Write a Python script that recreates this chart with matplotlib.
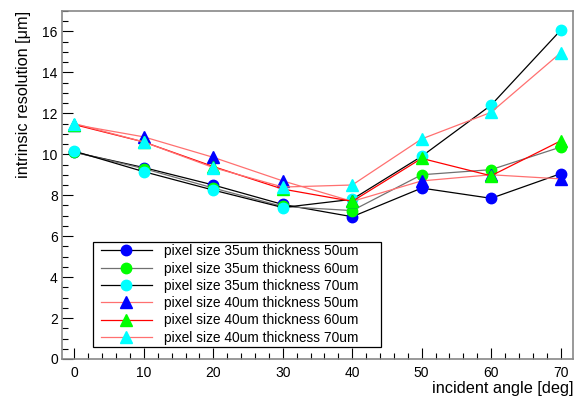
import matplotlib
matplotlib.use("Agg")
import matplotlib.pyplot as plt
from matplotlib.ticker import MultipleLocator
from matplotlib.patches import Rectangle

plt.rcParams['font.family'] = ['Liberation Sans', 'DejaVu Sans']

angles = [0, 10, 20, 30, 40, 50, 60, 70]
p35_t50 = [10.10, 9.35, 8.50, 7.55, 6.95, 8.35, 7.85, 9.05]
p35_t60 = [10.10, 9.30, 8.35, 7.45, 7.25, 9.00, 9.25, 10.35]
p35_t70 = [10.15, 9.15, 8.25, 7.40, 7.80, 9.90, 12.40, 16.05]
p40_t50 = [11.45, 10.85, 9.85, 8.70, 7.70, 8.70, 9.00, 8.80]
p40_t60 = [11.45, 10.60, 9.40, 8.30, 7.70, 9.80, 8.95, 10.65]
p40_t70 = [11.50, 10.60, 9.35, 8.40, 8.50, 10.75, 12.05, 14.95]

labels = ["pixel size 35um thickness 50um",
          "pixel size 35um thickness 60um",
          "pixel size 35um thickness 70um",
          "pixel size 40um thickness 50um",
          "pixel size 40um thickness 60um",
          "pixel size 40um thickness 70um"]
series = [p35_t50, p35_t60, p35_t70, p40_t50, p40_t60, p40_t70]
line_colors = ["#000000", "#707070", "#000000", "#ff7070", "#ff0000", "#ff7070"]
marker_colors = ["#0000ff", "#00ff00", "#00ffff", "#0000ff", "#00ff00", "#00ffff"]
markers = ["o", "o", "o", "^", "^", "^"]

fig = plt.figure(figsize=(5.79, 3.96), dpi=100)
ax = fig.add_axes([62/579, 1 - 359/396, 511/579, 348/396])

for vals, lab, lc, mc, m in zip(series, labels, line_colors, marker_colors, markers):
    ax.plot(angles, vals, color=lc, lw=0.9, marker=m, markersize=7.5 if m == "o" else 8,
            markerfacecolor=mc, markeredgecolor=mc, label=lab)

ax.set_xlim(-1.8, 71.8)
ax.set_ylim(0, 17)
ax.xaxis.set_major_locator(MultipleLocator(10))
ax.xaxis.set_minor_locator(MultipleLocator(2))
ax.yaxis.set_major_locator(MultipleLocator(2))
ax.yaxis.set_minor_locator(MultipleLocator(0.5))
ax.tick_params(which='both', direction='in', top=False, right=False, labelsize=10,
               color='#000000', width=0.8)
ax.tick_params(which='major', length=8)
ax.tick_params(which='minor', length=4)
ax.tick_params(axis='x', pad=5)
ax.tick_params(axis='y', pad=3)
for s in ax.spines.values():
    s.set_color('#888888')
    s.set_linewidth(1.2)

ax.set_xlabel("incident angle [deg]", fontsize=11.7, loc='right', labelpad=1)
ax.set_ylabel("intrinsic resolution [μm]", fontsize=11.7, loc='top', labelpad=8)

# legend frame drawn separately (axes coords)
x0, y0, x1, y1 = (93 - 62) / 511, (359 - 347) / 348, (381 - 62) / 511, (359 - 242) / 348
ax.add_patch(Rectangle((x0, y0), x1 - x0, y1 - y0, transform=ax.transAxes,
                       facecolor='white', edgecolor='black', lw=0.9, zorder=5))
lx0 = (101 - 62) / 511
leg = ax.legend(loc='center left', bbox_to_anchor=(lx0, (y0 + y1) / 2),
                fontsize=9.9, frameon=False, handlelength=3.7, borderaxespad=0,
                labelspacing=0.24, handletextpad=0.85, borderpad=0)
leg.set_zorder(6)

fig.savefig("out.png", dpi=100)
